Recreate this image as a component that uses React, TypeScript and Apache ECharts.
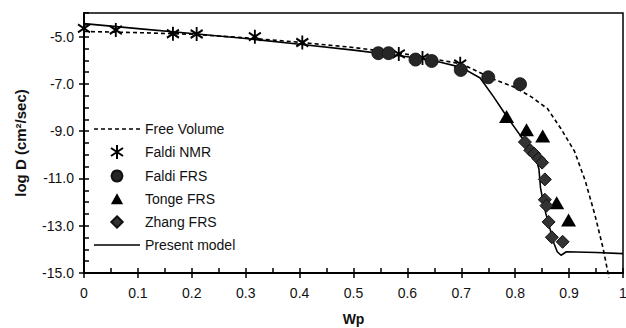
import React, { useEffect, useRef } from 'react';
import * as echarts from 'echarts';

const FONT = '"Liberation Sans", Arial, sans-serif';

const yTickLabels = ['-15.0', '-14.0', '-13.0', '-12.0', '-11.0', '-10.0', '-9.0', '-8.0', '-7.0', '-6.0', '-5.0', '-4.0'];

const faldiNMR: number[][] = [
  [0, -4.65], [0.059, -4.72], [0.165, -4.88], [0.209, -4.89], [0.317, -5.0],
  [0.405, -5.25], [0.584, -5.73], [0.628, -5.9], [0.698, -6.15],
];
const faldiFRS: number[][] = [
  [0.546, -5.7], [0.565, -5.7], [0.615, -5.97], [0.645, -6.03], [0.699, -6.41], [0.75, -6.72], [0.809, -7.01],
];
const tongeFRS: number[][] = [
  [0.784, -8.38], [0.821, -8.94], [0.851, -9.2], [0.877, -12.03], [0.899, -12.76],
];
const zhangFRS: number[][] = [
  [0.818, -9.46], [0.828, -9.81], [0.835, -9.95], [0.843, -10.16], [0.85, -10.33],
  [0.855, -11.04], [0.855, -11.9], [0.858, -12.15], [0.862, -12.84], [0.868, -13.49], [0.888, -13.68],
];
const modelW = [0, 0.1, 0.2, 0.3, 0.4, 0.5, 0.6, 0.65, 0.7, 0.735, 0.76, 0.785, 0.81, 0.825, 0.838, 0.844, 0.847, 0.852, 0.857, 0.866, 0.872, 0.878, 0.885, 0.895, 0.95, 1.0];
const modelLogD = [-4.45, -4.66, -4.87, -5.08, -5.32, -5.57, -5.85, -6.02, -6.3, -6.75, -7.55, -8.4, -9.2, -9.65, -10.1, -10.6, -11.4, -12.0, -12.5, -13.25, -13.75, -14.1, -14.25, -14.1, -14.13, -14.18];
const freeW = [0, 0.1, 0.2, 0.3, 0.4, 0.5, 0.6, 0.7, 0.76, 0.8, 0.83, 0.86, 0.885, 0.91, 0.93, 0.948, 0.963, 0.974];
const freeLogD = [-4.78, -4.83, -4.9, -5.05, -5.24, -5.46, -5.75, -6.15, -6.8, -7.15, -7.55, -8.05, -8.9, -9.85, -11.1, -12.55, -13.95, -15.2];

const ASTERISK = 'path://M6,0L6,14M0,3L12,11M0,11L12,3';
// Degenerate corner points keep the icon's box size so the visible mark sits centred.
const BOX46 = 'M0,0L0.01,0ZM46,14L45.99,14Z';
const ICON_SOLID = 'path://' + BOX46 + 'M0,6.2L46,6.2L46,7.8L0,7.8Z';
const ICON_DASHED = 'path://' + BOX46 + 'M0,6.2h4v1.6h-4zM7,6.2h4v1.6h-4zM14,6.2h4v1.6h-4zM21,6.2h4v1.6h-4zM28,6.2h4v1.6h-4zM35,6.2h4v1.6h-4zM42,6.2h4v1.6h-4z';
const BOX16 = 'M0,0L0.01,0ZM16,16L15.99,16Z';
const ICON_CIRCLE = 'path://' + BOX16 + 'M8,1.8A6.2,6.2 0 1 1 7.99,1.8Z';
const ICON_TRIANGLE = 'path://' + BOX16 + 'M8,1.5L15,14L1,14Z';
const ICON_DIAMOND = 'path://' + BOX16 + 'M8,1.5L14.5,8L8,14.5L1.5,8Z';

const legendItems = [
  { name: 'Free Volume', icon: ICON_DASHED },
  { name: 'Faldi NMR', icon: ASTERISK },
  { name: 'Faldi FRS', icon: ICON_CIRCLE },
  { name: 'Tonge FRS', icon: ICON_TRIANGLE },
  { name: 'Zhang FRS', icon: ICON_DIAMOND },
  { name: 'Present model', icon: ICON_SOLID },
];

export default function App() {
  const ref = useRef<HTMLDivElement>(null);
  useEffect(() => {
    if (!ref.current) return;
    const chart = echarts.init(ref.current, undefined, { renderer: 'svg' });
    const tickStyle = { color: '#000', width: 1.5 };
    chart.setOption({
      animation: false,
      backgroundColor: '#fff',
      textStyle: { fontFamily: FONT },
      grid: {
        left: 84, right: 3, top: 13, bottom: 55,
        show: true, borderColor: '#000', borderWidth: 1.5,
        outerBoundsMode: 'none',
      },
      legend: {
        orient: 'vertical', left: 94, top: 122, padding: 0,
        itemWidth: 46, itemHeight: 14, itemGap: 8,
        selectedMode: false,
        data: legendItems,
        textStyle: { fontSize: 14, color: '#111', fontFamily: FONT },
      },
      xAxis: [
        {
          type: 'value', min: 0, max: 1, interval: 0.1, position: 'bottom',
          axisLine: { lineStyle: { color: '#000', width: 2 } },
          axisTick: { inside: true, length: 5, lineStyle: tickStyle },
          minorTick: { show: true, splitNumber: 2, length: 5, lineStyle: tickStyle },
          splitLine: { show: false },
          axisLabel: { margin: 13, fontSize: 14, color: '#111', fontFamily: FONT },
          name: 'Wp', nameLocation: 'middle', nameGap: 39,
          nameTextStyle: { fontWeight: 'bold', fontSize: 14, color: '#111', fontFamily: FONT },
        },
        {
          type: 'value', min: 0, max: 1, interval: 0.1, position: 'bottom',
          axisLine: { show: false },
          axisTick: { inside: false, length: 5, lineStyle: tickStyle },
          axisLabel: { show: false },
          splitLine: { show: false },
        },
      ],
      yAxis: [
        {
          type: 'value', min: -15, max: -4, interval: 0.5, position: 'left',
          axisLine: { lineStyle: { color: '#000', width: 2 } },
          axisTick: { inside: true, length: 5, lineStyle: tickStyle },
          axisLabel: { show: false },
          splitLine: { show: false },
          name: 'log D (cm²/sec)', nameLocation: 'middle', nameGap: 56,
          nameTextStyle: { fontWeight: 'bold', fontSize: 15, color: '#111', fontFamily: FONT },
        },
        {
          type: 'category', data: yTickLabels, boundaryGap: false, position: 'left',
          axisLine: { show: false },
          axisTick: { show: true, inside: false, length: 5, lineStyle: tickStyle, interval: (i: number) => i % 2 === 0 },
          axisLabel: { interval: (i: number) => i % 2 === 0, margin: 10, fontSize: 14, color: '#111', fontFamily: FONT },
          splitLine: { show: false },
        },
      ],
      series: [
        {
          name: 'Free Volume', type: 'line', data: freeW.map((w, i) => [w, freeLogD[i]]),
          symbol: 'none', clip: false,
          lineStyle: { color: '#000', width: 1.6, type: [4, 3] },
          itemStyle: { color: '#000' }, z: 2,
        },
        {
          name: 'Present model', type: 'line', data: modelW.map((w, i) => [w, modelLogD[i]]),
          symbol: 'none',
          lineStyle: { color: '#000', width: 1.6 },
          itemStyle: { color: '#000' }, z: 2,
        },
        {
          name: 'Faldi NMR', type: 'scatter', data: faldiNMR,
          symbol: ASTERISK, symbolSize: [12, 14],
          itemStyle: { color: '#000', borderColor: '#000', borderWidth: 2, opacity: 1 }, z: 3,
        },
        {
          name: 'Faldi FRS', type: 'scatter', data: faldiFRS,
          symbol: 'circle', symbolSize: 13,
          itemStyle: { color: '#262626', borderColor: '#111', borderWidth: 0.8, opacity: 1 }, z: 3,
        },
        {
          name: 'Tonge FRS', type: 'scatter', data: tongeFRS,
          symbol: 'triangle', symbolSize: [15, 13],
          itemStyle: { color: '#000', opacity: 1 }, z: 3,
        },
        {
          name: 'Zhang FRS', type: 'scatter', data: zhangFRS,
          symbol: 'diamond', symbolSize: 13,
          itemStyle: { color: '#333', borderColor: '#111', borderWidth: 1, opacity: 1 }, z: 3,
        },
      ],
    });
    return () => chart.dispose();
  }, []);
  return <div ref={ref} style={{ position: 'absolute', left: 0, top: 0, width: 626, height: 328 }} />;
}
